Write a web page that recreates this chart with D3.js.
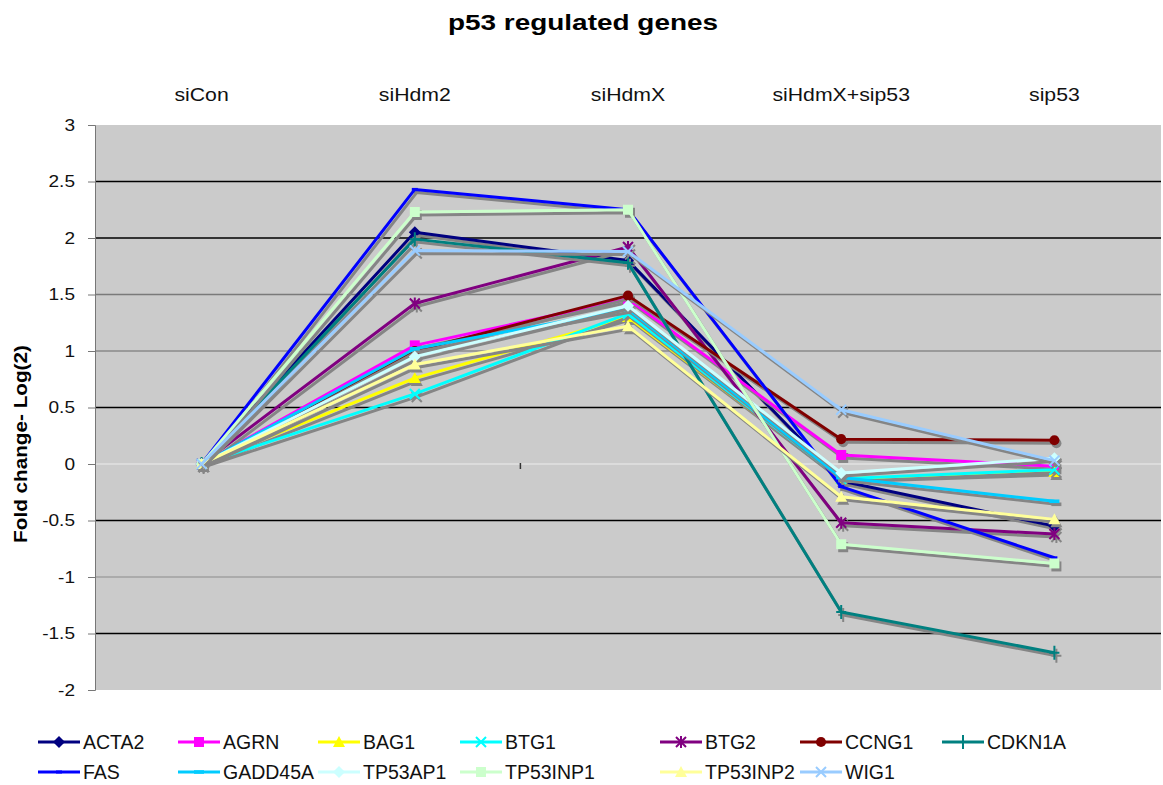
<!DOCTYPE html>
<html><head><meta charset="utf-8">
<script src="https://cdn.jsdelivr.net/npm/d3@7"></script>
<style>body{margin:0;background:#fff;} text{font-family:"Liberation Sans",Arial,sans-serif;}</style>
</head><body>
<svg id="c" width="1163" height="785"></svg>
<script>
const categories = ["siCon","siHdm2","siHdmX","siHdmX+sip53","sip53"];
const yTicks = [3,2.5,2,1.5,1,0.5,0,-0.5,-1,-1.5,-2];
const seriesNames = ["ACTA2","AGRN","BAG1","BTG1","BTG2","CCNG1","CDKN1A","FAS","GADD45A","TP53AP1","TP53INP1","TP53INP2","WIG1"];
const ACTA2    = [0, 2.05, 1.80, -0.15, -0.55];
const AGRN     = [0, 1.05, 1.46,  0.08, -0.02];
const BAG1     = [0, 0.76, 1.30, -0.13, -0.07];
const BTG1     = [0, 0.62, 1.33, -0.13, -0.05];
const BTG2     = [0, 1.42, 1.92, -0.52, -0.62];
const CCNG1    = [0, 1.00, 1.49,  0.22,  0.21];
const CDKN1A   = [0, 1.99, 1.78, -1.31, -1.67];
const FAS      = [0, 2.43, 2.25, -0.20, -0.83];
const GADD45A  = [0, 1.02, 1.37, -0.12, -0.33];
const TP53AP1  = [0, 0.95, 1.40, -0.08,  0.05];
const TP53INP1 = [0, 2.23, 2.25, -0.71, -0.88];
const TP53INP2 = [0, 0.88, 1.22, -0.29, -0.49];
const WIG1     = [0, 1.89, 1.88,  0.48,  0.03];
const seriesValues = [ACTA2,AGRN,BAG1,BTG1,BTG2,CCNG1,CDKN1A,FAS,GADD45A,TP53AP1,TP53INP1,TP53INP2,WIG1];
const colors = ["#000080","#FF00FF","#FFFF00","#00FFFF","#800080","#800000","#008080","#0000FF","#00CCFF","#CCFFFF","#CCFFCC","#FFFF99","#99CCFF"];
const markers = ["diamond","square","triangle","x","star","circle","plus","dash","longdash","diamond","square","triangle","x"];

const svg = d3.select("#c");
const L = 95, R = 1161, T = 125, B = 690;
const x = d3.scaleBand().domain(categories).range([L, R]);
const cx = c => x(c) + x.bandwidth()/2;
const y = d3.scaleLinear().domain([-2,3]).range([B, T]);

function stretch(sel, f) {
  sel.each(function() {
    const w = this.getComputedTextLength();
    d3.select(this).attr("textLength", w * f).attr("lengthAdjust", "spacingAndGlyphs");
  });
}

// title
svg.append("text").attr("x", 583).attr("y", 30).attr("text-anchor","middle")
  .attr("font-size", 22).attr("font-weight","bold").text("p53 regulated genes")
  .call(stretch, 1.27);

// plot area
svg.append("rect").attr("x", L).attr("y", T).attr("width", R-L).attr("height", B-T).attr("fill", "#cbcbcb");

// gridlines
const gridCol = {"2.5":"#000","2":"#000","1.5":"#7a7a7a","1":"#8a8a8a","0.5":"#000","0":"#e2e2e2","-0.5":"#000","-1":"#a0a0a0","-1.5":"#000"};
svg.append("g").selectAll("line").data(yTicks.filter(t => t<3 && t>-2)).join("line")
  .attr("x1", L).attr("x2", R).attr("y1", d=>y(d)).attr("y2", d=>y(d))
  .attr("stroke", d => gridCol[String(d)] || "#000").attr("stroke-width", 1.3);

// y axis
const yAxis = svg.append("g").attr("transform", `translate(${L},0)`)
  .call(d3.axisLeft(y).tickValues(yTicks).tickSize(7).tickPadding(13).tickFormat(d => String(d)));
yAxis.select(".domain").attr("stroke", "#777");
yAxis.selectAll(".tick line").attr("stroke", "#777");
yAxis.selectAll("text").attr("font-size", 17).attr("fill", "#111")
  .style("font-family", '"Liberation Sans",Arial,sans-serif').call(stretch, 1.12);

// y title
svg.append("text").attr("transform", "translate(27,444) rotate(-90)").attr("text-anchor","middle")
  .attr("font-size", 18).attr("font-weight","bold").text("Fold change- Log(2)")
  .call(stretch, 1.15);

// category labels (top)
const xAxis = svg.append("g").attr("transform", `translate(0,${T-24})`)
  .call(d3.axisTop(x).tickSize(0).tickPadding(0));
xAxis.select(".domain").remove();
xAxis.selectAll("text").attr("font-size", 18).attr("fill", "#111")
  .style("font-family", '"Liberation Sans",Arial,sans-serif').call(stretch, 1.18);

// small category tick on zero line
svg.append("line").attr("x1", x("siHdmX")-1).attr("x2", x("siHdmX")-1)
  .attr("y1", y(0)-1).attr("y2", y(0)+5).attr("stroke","#333").attr("stroke-width",1.5);

function markerPath(type, s) {
  const h = s/2;
  switch(type) {
    case "diamond": return `M0,${-h-1}L${h+1},0L0,${h+1}L${-h-1},0Z`;
    case "square": return `M${-h},${-h}H${h}V${h}H${-h}Z`;
    case "triangle": return `M0,${-h-1}L${h+1},${h}L${-h-1},${h}Z`;
    case "x": return `M${-h},${-h}L${h},${h}M${-h},${h}L${h},${-h}`;
    case "star": return `M${-h},${-h}L${h},${h}M${-h},${h}L${h},${-h}M0,${-h-1}V${h+1}`;
    case "circle": return d3.symbol(d3.symbolCircle, s*s*0.8)();
    case "plus": return `M0,${-h-2}V${h+2}M${-h},0H${h}`;
    case "dash": return `M-3,-1.5H3V1.5H-3Z`;
    case "longdash": return `M-5,-1.8H5V1.8H-5Z`;
  }
}
const lineOpen = t => (t === "x" || t === "star" || t === "plus");

const line = d3.line().x((d,i)=>cx(categories[i])).y(d=>y(d));
const g = svg.append("g");
seriesNames.forEach((name, si) => {
  const vals = seriesValues[si];
  const col = colors[si], mk = markers[si];
  const sg = g.append("g");
  sg.append("path").attr("d", line(vals)).attr("transform","translate(2,3)")
    .attr("fill","none").attr("stroke","#858585").attr("stroke-width",3).attr("stroke-linejoin","round");
  sg.selectAll(".ms").data(vals).join("path")
    .attr("transform",(d,i)=>`translate(${cx(categories[i])+2},${y(d)+3})`)
    .attr("d", markerPath(mk, 10))
    .attr("fill", lineOpen(mk) ? "none" : "#858585")
    .attr("stroke", "#858585").attr("stroke-width", lineOpen(mk)?2:0);
  sg.append("path").attr("d", line(vals))
    .attr("fill","none").attr("stroke",col).attr("stroke-width",3).attr("stroke-linejoin","round");
  sg.selectAll(".m").data(vals).join("path")
    .attr("transform",(d,i)=>`translate(${cx(categories[i])},${y(d)})`)
    .attr("d", markerPath(mk, 10))
    .attr("fill", lineOpen(mk) ? "none" : col)
    .attr("stroke", col).attr("stroke-width", lineOpen(mk)?2:0);
});

// legend
const colX = [38, 178, 318, 460, 660, 800, 942];
const rowY = [742, 772];
const lg = svg.append("g");
seriesNames.forEach((name, si) => {
  const r = si < 7 ? 0 : 1, c = si < 7 ? si : si - 7;
  const it = lg.append("g").attr("transform", `translate(${colX[c]},${rowY[r]})`);
  it.append("line").attr("x1",0).attr("x2",42).attr("stroke",colors[si]).attr("stroke-width",3);
  it.append("path").attr("transform","translate(21,0)").attr("d", markerPath(markers[si], 10))
    .attr("fill", lineOpen(markers[si]) ? "none" : colors[si])
    .attr("stroke", colors[si]).attr("stroke-width", lineOpen(markers[si])?2:0);
  it.append("text").attr("x", 45).attr("y", 7).attr("font-size", 19.5).attr("fill","#111").text(name);
});
</script>
</body></html>
